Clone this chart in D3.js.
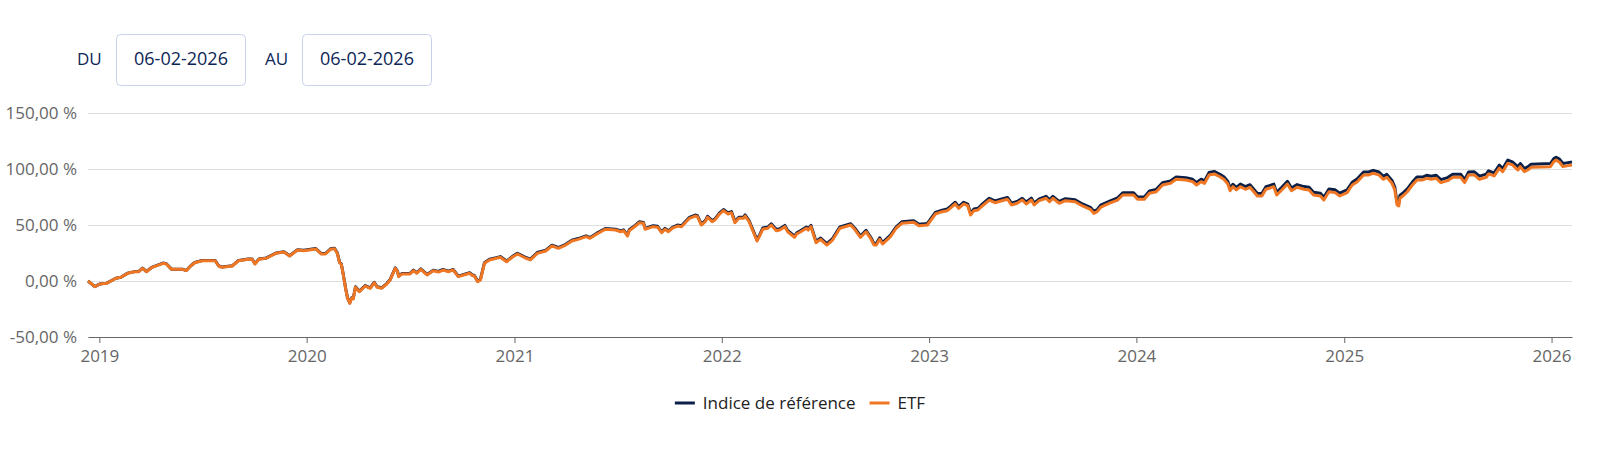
<!DOCTYPE html>
<html>
<head>
<meta charset="utf-8">
<script src="https://cdn.jsdelivr.net/npm/d3@7"></script>
<style>
  html, body { margin: 0; padding: 0; background: #fff; }
  svg { display: block; font-family: "Open Sans", "Noto Sans", sans-serif; }
</style>
</head>
<body>
<svg id="chart" width="1600" height="449"></svg>
<script>
// dates of the points
var dates = [
  "2018-12-12","2018-12-24","2019-01-02","2019-01-14","2019-01-30","2019-02-08","2019-02-20","2019-03-04","2019-03-11","2019-03-18",
  "2019-03-25","2019-04-03","2019-04-23","2019-04-29","2019-05-08","2019-05-27","2019-06-03","2019-06-11","2019-06-18","2019-07-01",
  "2019-07-24","2019-07-30","2019-08-05","2019-08-23","2019-09-03","2019-09-20","2019-09-27","2019-10-02","2019-10-09","2019-10-22",
  "2019-11-08","2019-11-22","2019-12-02","2019-12-16","2019-12-27",
  "2020-01-17","2020-01-27","2020-02-03","2020-02-12","2020-02-19","2020-02-24","2020-02-28","2020-03-02","2020-03-05","2020-03-10",
  "2020-03-13","2020-03-17","2020-03-20","2020-03-23","2020-03-27","2020-04-03","2020-04-13","2020-04-22","2020-04-29","2020-05-04",
  "2020-05-12","2020-05-21","2020-05-27","2020-06-05","2020-06-09","2020-06-11","2020-06-17","2020-07-01","2020-07-07","2020-07-13",
  "2020-07-20","2020-07-31","2020-08-11","2020-08-20","2020-08-28","2020-09-07","2020-09-15","2020-09-24","2020-10-08","2020-10-14",
  "2020-10-19","2020-10-22","2020-10-28","2020-11-02","2020-11-09","2020-11-18","2020-11-30","2020-12-07","2020-12-18","2020-12-28",
  "2021-01-06","2021-01-21","2021-01-29","2021-02-10","2021-02-25","2021-03-08","2021-03-19","2021-04-01","2021-04-12","2021-04-23",
  "2021-05-07","2021-05-14","2021-05-26","2021-06-10","2021-06-28","2021-07-07","2021-07-12","2021-07-19","2021-07-22","2021-08-02",
  "2021-08-09","2021-08-16","2021-08-19","2021-09-02","2021-09-10","2021-09-17","2021-09-23","2021-09-29","2021-10-06","2021-10-15",
  "2021-10-22","2021-11-05","2021-11-15","2021-11-19","2021-11-26","2021-12-03","2021-12-07","2021-12-15","2021-12-20","2021-12-28",
  "2022-01-04","2022-01-12","2022-01-18","2022-01-24","2022-01-31","2022-02-08","2022-02-11","2022-02-18","2022-02-24","2022-03-04",
  "2022-03-08","2022-03-14","2022-03-23","2022-03-29","2022-04-07","2022-04-13","2022-04-22","2022-04-27","2022-05-09","2022-05-13",
  "2022-05-20","2022-05-30","2022-06-02","2022-06-07","2022-06-16","2022-06-24","2022-07-05","2022-07-15","2022-07-28","2022-08-16",
  "2022-08-24","2022-09-02","2022-09-12","2022-09-20","2022-09-26","2022-09-30","2022-10-06","2022-10-11","2022-10-25","2022-11-04",
  "2022-11-14","2022-12-05","2022-12-14","2022-12-29",
  "2023-01-12","2023-01-24","2023-02-02","2023-02-07","2023-02-16","2023-02-22","2023-03-03","2023-03-10","2023-03-15","2023-03-21",
  "2023-03-28","2023-04-03","2023-04-17","2023-04-27","2023-05-09","2023-05-19","2023-05-26","2023-06-05","2023-06-14","2023-06-21",
  "2023-06-30","2023-07-05","2023-07-14","2023-07-26","2023-08-01","2023-08-07","2023-08-18","2023-08-29","2023-09-15","2023-09-28",
  "2023-10-12","2023-10-18","2023-10-24","2023-10-30","2023-11-08","2023-11-17","2023-11-29","2023-12-08","2023-12-27",
  "2024-01-03","2024-01-15","2024-01-24","2024-02-05","2024-02-16","2024-03-01","2024-03-11","2024-03-28","2024-04-09","2024-04-16",
  "2024-04-24","2024-04-30","2024-05-08","2024-05-17","2024-05-27","2024-06-03","2024-06-10","2024-06-14","2024-06-19","2024-06-25",
  "2024-07-02","2024-07-11","2024-07-19","2024-08-01","2024-08-09","2024-08-16","2024-08-22","2024-08-30","2024-09-04","2024-09-13",
  "2024-09-23","2024-09-30","2024-10-10","2024-10-22","2024-10-31","2024-11-08","2024-11-20","2024-11-26","2024-12-05","2024-12-16",
  "2024-12-24",
  "2025-01-06","2025-01-15","2025-01-24","2025-02-04","2025-02-13","2025-02-21","2025-03-03","2025-03-11","2025-03-17","2025-03-26",
  "2025-03-31","2025-04-04","2025-04-07","2025-04-09","2025-04-16","2025-04-22","2025-05-01","2025-05-09","2025-05-19","2025-05-26",
  "2025-06-03","2025-06-12","2025-06-20","2025-07-02","2025-07-11","2025-07-25","2025-08-01","2025-08-08","2025-08-18","2025-08-27",
  "2025-09-08","2025-09-12","2025-09-22","2025-10-01","2025-10-07","2025-10-16","2025-10-24","2025-11-03","2025-11-07","2025-11-14",
  "2025-11-20","2025-11-26","2025-12-30",
  "2026-01-05","2026-01-09","2026-01-15","2026-01-21","2026-01-30","2026-02-06"
];

// ETF performance (%)
var etf = [
  0.0,-5.1,-2.7,-2.0,2.4,3.3,6.9,8.3,8.3,11.3,
  8.3,11.9,15.8,15.2,10.4,10.4,9.2,13.4,16.3,18.1,
  18.1,13.4,12.2,13.4,18.1,19.4,19.4,15.2,19.4,20.3,
  24.7,25.9,22.3,27.7,27.1,
  28.6,24.1,24.1,28.3,28.8,24.7,16.3,14.9,6.9,-8.0,
  -15.4,-19.9,-15.4,-16.0,-5.6,-9.5,-4.5,-6.5,-1.5,-5.6,
  -6.5,-2.7,0.9,11.3,8.3,3.9,6.3,6.3,9.2,6.9,
  10.4,5.4,9.2,8.0,9.8,8.3,9.8,3.9,6.0,6.9,
  4.7,4.7,-0.6,0.9,15.8,18.8,20.3,21.2,17.2,21.2,
  24.1,20.3,18.8,24.7,26.8,31.3,29.2,32.1,35.7,37.2,
  39.6,38.1,42.0,46.2,45.5,44.0,44.9,40.2,44.9,49.1,
  52.1,51.5,46.2,48.5,48.0,43.1,46.2,44.0,47.1,49.1,
  48.5,56.0,58.0,57.4,50.0,53.0,56.9,53.0,54.5,59.8,
  62.8,59.8,61.0,52.1,56.0,56.0,58.0,53.0,45.5,35.7,
  39.6,46.2,47.1,50.0,44.9,45.5,48.5,44.0,39.0,42.0,
  44.0,47.1,45.5,48.5,34.2,37.2,32.1,36.6,47.1,50.0,
  45.5,39.0,44.0,38.1,32.1,32.1,37.2,33.0,39.6,47.1,
  51.5,52.4,49.4,50.0,
  59.8,61.9,62.8,64.9,68.8,64.9,68.8,67.2,58.9,62.8,
  63.4,66.3,72.3,69.9,71.7,73.0,67.9,69.4,72.3,68.8,
  72.3,67.9,71.7,73.9,70.8,73.9,69.4,71.7,70.8,67.0,
  64.0,60.4,61.9,65.8,67.9,69.9,72.3,76.8,76.8,
  73.0,73.0,78.3,79.7,85.7,87.2,90.8,90.2,88.7,85.7,
  88.7,87.2,94.7,95.6,93.1,90.8,86.6,80.6,84.2,81.3,
  84.2,81.9,83.7,75.9,75.9,81.9,82.8,84.2,76.8,81.3,
  86.6,80.6,83.7,81.9,81.3,76.8,75.9,72.3,79.7,78.9,
  75.9,
  78.9,85.7,88.7,94.7,94.7,96.2,94.7,90.8,92.6,87.2,
  81.3,67.9,67.0,73.9,76.8,79.7,85.7,90.2,90.2,91.7,
  90.8,91.7,87.8,89.6,92.6,92.6,87.8,94.7,94.7,90.8,
  92.6,95.6,93.8,100.6,97.6,105.1,103.6,99.1,102.1,97.6,
  99.1,101.5,102.1,
  106.5,108.0,106.0,102.1,103.0,103.6
];

// Indice de référence performance (%)
var indice = [
  0.0,-5.0,-2.6,-1.9,2.5,3.4,7.0,8.4,8.4,11.5,
  8.5,12.1,16.0,15.4,10.6,10.6,9.4,13.6,16.5,18.3,
  18.3,13.6,12.4,13.6,18.4,19.7,19.7,15.5,19.7,20.6,
  25.0,26.2,22.6,28.0,27.4,
  29.0,24.5,24.5,28.7,29.2,25.1,16.7,15.3,7.3,-7.6,
  -15.0,-19.5,-15.0,-15.6,-5.2,-9.1,-4.1,-6.1,-1.1,-5.2,
  -6.1,-2.3,1.3,11.8,8.8,4.4,6.8,6.8,9.7,7.4,
  10.9,5.9,9.7,8.5,10.3,8.8,10.3,4.4,6.5,7.4,
  5.2,5.2,-0.1,1.4,16.3,19.4,20.9,21.8,17.8,21.8,
  24.8,21.0,19.5,25.4,27.5,32.0,29.9,32.8,36.4,37.9,
  40.3,38.8,42.7,46.9,46.3,44.8,45.7,41.0,45.7,49.9,
  52.9,52.3,47.0,49.3,48.8,43.9,47.0,44.8,47.9,50.0,
  49.4,56.9,58.9,58.3,50.9,53.9,57.8,53.9,55.4,60.8,
  63.8,60.8,62.0,53.1,57.0,57.0,59.0,54.0,46.5,36.7,
  40.6,47.3,48.2,51.1,46.0,46.6,49.6,45.1,40.1,43.1,
  45.1,48.2,46.6,49.6,35.4,38.4,33.3,37.8,48.3,51.2,
  46.7,40.2,45.2,39.3,33.3,33.4,38.5,34.3,40.9,48.4,
  52.8,53.7,50.7,51.4,
  61.2,63.3,64.3,66.4,70.3,66.4,70.3,68.7,60.4,64.3,
  64.9,67.9,73.9,71.5,73.3,74.6,69.5,71.0,73.9,70.5,
  74.0,69.6,73.4,75.6,72.5,75.6,71.1,73.5,72.6,68.8,
  65.8,62.2,63.7,67.7,69.8,71.8,74.2,78.7,78.8,
  75.0,75.0,80.3,81.8,87.8,89.3,92.9,92.3,90.8,87.9,
  90.9,89.4,96.9,97.8,95.3,93.0,88.8,82.8,86.4,83.6,
  86.5,84.2,86.0,78.2,78.2,84.2,85.1,86.5,79.1,83.6,
  89.0,83.0,86.1,84.3,83.7,79.2,78.3,74.7,82.1,81.4,
  78.4,
  81.4,88.2,91.2,97.3,97.3,98.8,97.3,93.4,95.2,89.8,
  83.8,70.0,69.4,76.4,79.4,82.3,88.3,92.8,92.8,94.4,
  93.5,94.4,90.5,92.3,95.3,95.3,90.5,97.4,97.5,93.6,
  95.4,98.4,96.6,103.4,100.4,107.9,106.4,101.9,104.9,100.4,
  101.9,104.3,104.9,
  109.3,110.5,108.8,104.9,105.7,106.2
];

var yTicks = [-50, 0, 50, 100, 150];
var seriesNames = ["Indice de référence", "ETF"];
var seriesColors = ["#0b1f47", "#ef7622"];
var dateFrom = "06-02-2026";
var dateTo = "06-02-2026";

var parse = d3.timeParse("%Y-%m-%d");
var rows = dates.map(function(d, i) {
  return {date: parse(d), etf: etf[i], indice: indice[i]};
});

var fr = d3.formatLocale({decimal: ",", thousands: " ", grouping: [3], currency: ["", " €"], minus: "-"});
var fmt = fr.format(".2f");

var svg = d3.select("#chart");

// date pickers (DU / AU)
var navy = "#0c2557";
function dateBox(label, lx, bx, val) {
  svg.append("text").attr("x", lx).attr("y", 64.5)
    .attr("fill", navy).style("font-size", "17px").text(label);
  svg.append("rect").attr("x", bx + 0.5).attr("y", 34.5)
    .attr("width", 129).attr("height", 51).attr("rx", 4)
    .attr("fill", "#fff").attr("stroke", "#c6d3ea");
  svg.append("text").attr("x", bx + 65).attr("y", 64.5)
    .attr("text-anchor", "middle").attr("fill", navy)
    .style("font-size", "18px").text(val);
}
dateBox("DU", 77, 116, dateFrom);
dateBox("AU", 265, 302, dateTo);

// scales
var x = d3.scaleTime()
  .domain(d3.extent(rows, function(d) { return d.date; }))
  .range([88, 1572]);
var y = d3.scaleLinear().domain([-50, 150]).range([337, 113]);

// y gridlines + labels
var gy = svg.append("g").attr("transform", "translate(88,0)")
  .call(d3.axisLeft(y).tickValues(yTicks).tickSize(-(1572 - 88)).tickPadding(11)
    .tickFormat(function(d) { return fmt(d) + " %"; }));
gy.select(".domain").remove();
gy.selectAll(".tick line").attr("stroke", "#dfdfdf").attr("stroke-width", 1);
gy.selectAll(".tick text").attr("fill", "#666").attr("dy", "0.32em")
  .style("font-size", "17px").style("font-family", "'Open Sans', sans-serif");

// x axis
var gx = svg.append("g").attr("transform", "translate(0,337)")
  .call(d3.axisBottom(x).ticks(d3.timeYear.every(1)).tickFormat(d3.timeFormat("%Y"))
    .tickSize(6).tickSizeOuter(0).tickPadding(7));
gx.select(".domain").attr("stroke", "#666");
gx.selectAll(".tick line").attr("stroke", "#666");
gx.selectAll(".tick text").attr("fill", "#666")
  .style("font-size", "17px").style("font-family", "'Open Sans', sans-serif");

// lines
var lineIndice = d3.line().x(function(d) { return x(d.date); }).y(function(d) { return y(d.indice); });
var lineEtf = d3.line().x(function(d) { return x(d.date); }).y(function(d) { return y(d.etf); });

svg.append("path").datum(rows)
  .attr("fill", "none").attr("stroke", seriesColors[0]).attr("stroke-width", 3)
  .attr("stroke-linejoin", "round").attr("d", lineIndice);
svg.append("path").datum(rows)
  .attr("fill", "none").attr("stroke", seriesColors[1]).attr("stroke-width", 3)
  .attr("stroke-linejoin", "round").attr("d", lineEtf);

// legend, centred under the chart
var legend = svg.append("g");
var cx = 0;
seriesNames.forEach(function(name, i) {
  var item = legend.append("g").attr("transform", "translate(" + cx + ",0)");
  item.append("line").attr("x1", 0).attr("x2", 20).attr("y1", 0).attr("y2", 0)
    .attr("stroke", seriesColors[i]).attr("stroke-width", 3);
  var t = item.append("text").attr("x", 28).attr("y", 6)
    .attr("fill", "#222").style("font-size", "17px").text(name);
  cx += 28 + t.node().getComputedTextLength() + 14;
});
var lw = cx - 14;
legend.attr("transform", "translate(" + (800 - lw / 2) + ",403)");
</script>
</body>
</html>
